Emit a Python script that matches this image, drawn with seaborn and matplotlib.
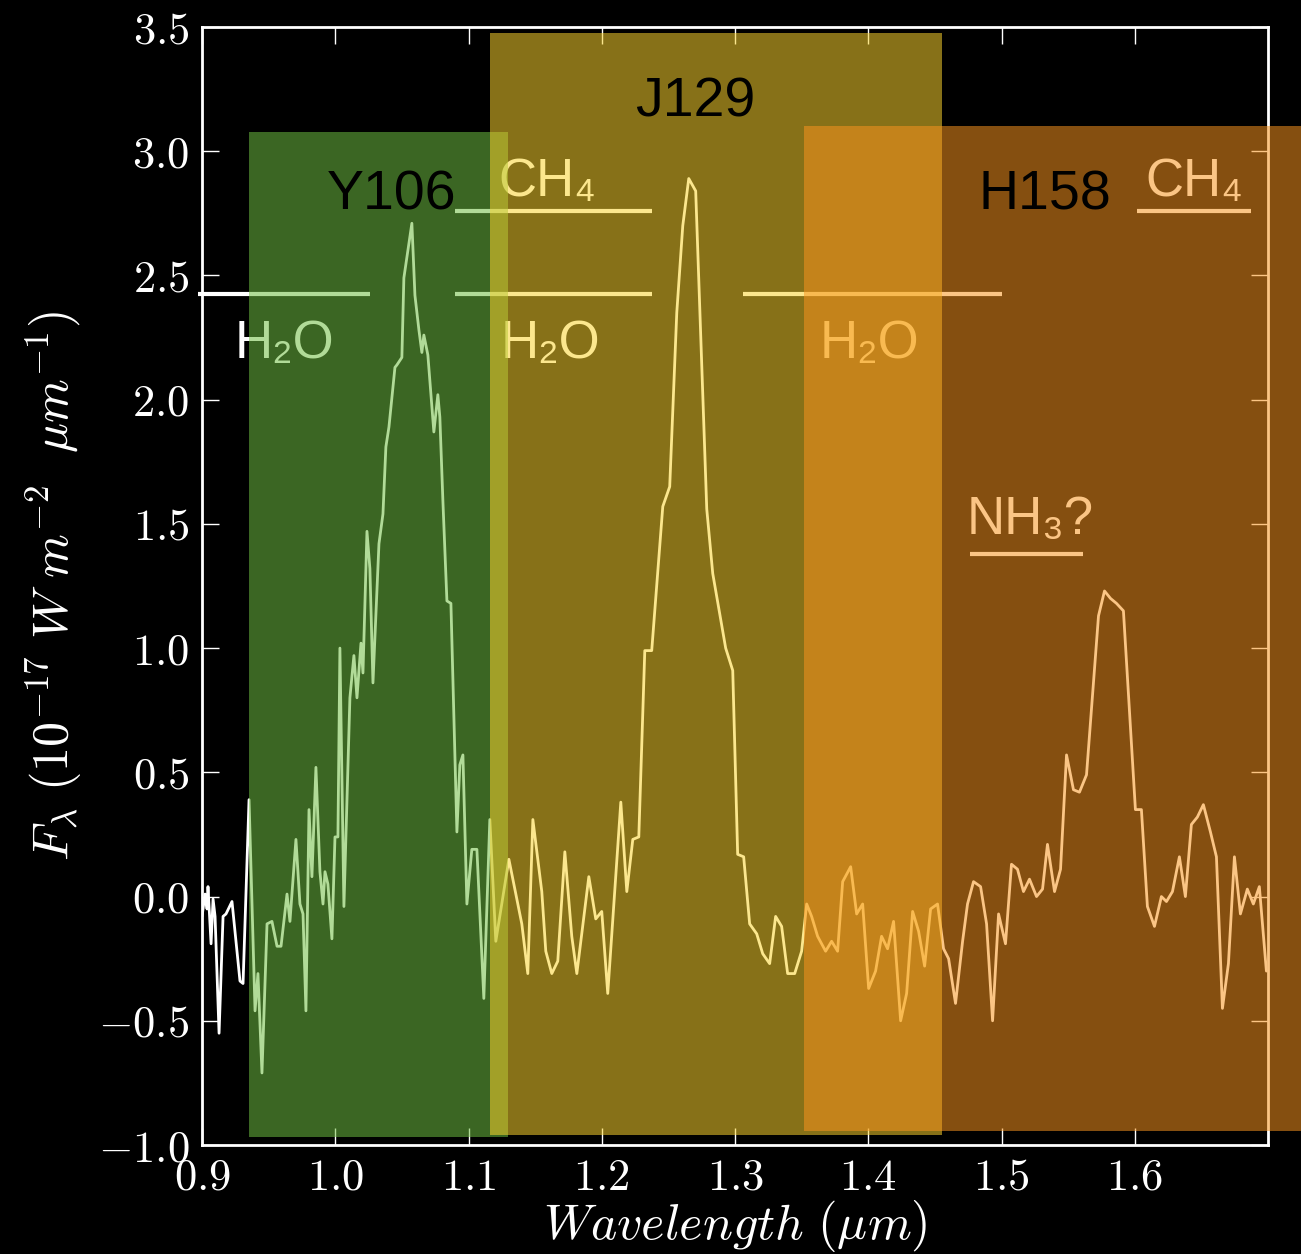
import matplotlib
matplotlib.use("Agg")
import matplotlib.pyplot as plt
import seaborn as sns
import pandas as pd
from matplotlib.patches import Rectangle
from matplotlib.ticker import FuncFormatter

# ---------------- data ----------------
wavelength = [0.9000, 0.9023, 0.9038, 0.9045, 0.9068, 0.9083, 0.9098, 0.9128, 0.9158, 0.9180,
              0.9225, 0.9285, 0.9308, 0.9353, 0.9398, 0.9420, 0.9450, 0.9488, 0.9525, 0.9563,
              0.9593, 0.9638, 0.9660, 0.9705, 0.9735, 0.9758, 0.9780, 0.9803, 0.9825, 0.9855,
              0.9885, 0.9908, 0.9923, 0.9945, 0.9975, 0.9998, 1.0020, 1.0035, 1.0065, 1.0110,
              1.0140, 1.0163, 1.0193, 1.0208, 1.0238, 1.0260, 1.0283, 1.0328, 1.0358, 1.0380,
              1.0403, 1.0448, 1.0463, 1.0500, 1.0515, 1.0545, 1.0575, 1.0598, 1.0628, 1.0650,
              1.0665, 1.0695, 1.0725, 1.0740, 1.0770, 1.0785, 1.0808, 1.0838, 1.0868, 1.0913,
              1.0935, 1.0958, 1.0988, 1.1025, 1.1063, 1.1115, 1.1160, 1.1205, 1.1303, 1.1400,
              1.1445, 1.1483, 1.1550, 1.1580, 1.1625, 1.1670, 1.1723, 1.1775, 1.1813, 1.1903,
              1.1955, 1.2000, 1.2045, 1.2143, 1.2188, 1.2233, 1.2278, 1.2323, 1.2375, 1.2458,
              1.2510, 1.2563, 1.2608, 1.2653, 1.2705, 1.2788, 1.2833, 1.2930, 1.2983, 1.3020,
              1.3065, 1.3110, 1.3163, 1.3208, 1.3260, 1.3305, 1.3350, 1.3395, 1.3448, 1.3500,
              1.3538, 1.3575, 1.3620, 1.3680, 1.3725, 1.3770, 1.3808, 1.3868, 1.3913, 1.3958,
              1.4003, 1.4055, 1.4100, 1.4145, 1.4190, 1.4243, 1.4288, 1.4333, 1.4378, 1.4423,
              1.4468, 1.4520, 1.4565, 1.4603, 1.4655, 1.4708, 1.4745, 1.4790, 1.4843, 1.4888,
              1.4933, 1.4978, 1.5030, 1.5075, 1.5120, 1.5165, 1.5210, 1.5263, 1.5308, 1.5345,
              1.5398, 1.5443, 1.5488, 1.5540, 1.5585, 1.5638, 1.5728, 1.5773, 1.5818, 1.5863,
              1.5915, 1.6005, 1.6050, 1.6095, 1.6148, 1.6200, 1.6238, 1.6283, 1.6335, 1.6380,
              1.6425, 1.6470, 1.6515, 1.6568, 1.6613, 1.6658, 1.6703, 1.6748, 1.6793, 1.6845,
              1.6890, 1.6935, 1.6988]
flux = [-0.08, 0.01, -0.05, 0.04, -0.19, -0.01, -0.08, -0.55, -0.08, -0.07,
        -0.02, -0.34, -0.35, 0.39, -0.46, -0.31, -0.71, -0.11, -0.10, -0.20,
        -0.20, 0.01, -0.10, 0.23, -0.03, -0.07, -0.46, 0.35, 0.08, 0.52,
        0.10, -0.03, 0.10, 0.05, -0.17, 0.24, 0.24, 1.00, -0.04, 0.80,
        0.97, 0.80, 1.02, 0.90, 1.47, 1.32, 0.86, 1.42, 1.54, 1.81,
        1.89, 2.13, 2.14, 2.17, 2.49, 2.60, 2.71, 2.42, 2.28, 2.19,
        2.26, 2.18, 1.97, 1.87, 2.02, 1.93, 1.59, 1.19, 1.18, 0.26,
        0.53, 0.57, -0.03, 0.19, 0.19, -0.41, 0.31, -0.18, 0.15, -0.11,
        -0.31, 0.31, 0.02, -0.22, -0.31, -0.26, 0.18, -0.16, -0.31, 0.08,
        -0.09, -0.06, -0.39, 0.38, 0.02, 0.23, 0.24, 0.99, 0.99, 1.57,
        1.65, 2.35, 2.70, 2.89, 2.84, 1.56, 1.30, 1.00, 0.91, 0.17,
        0.16, -0.11, -0.15, -0.23, -0.27, -0.08, -0.12, -0.31, -0.31, -0.22,
        -0.03, -0.08, -0.16, -0.22, -0.18, -0.22, 0.06, 0.12, -0.07, -0.03,
        -0.37, -0.30, -0.16, -0.21, -0.10, -0.50, -0.39, -0.06, -0.14, -0.28,
        -0.05, -0.03, -0.21, -0.25, -0.43, -0.18, -0.03, 0.06, 0.04, -0.11,
        -0.50, -0.07, -0.19, 0.13, 0.11, 0.02, 0.07, 0.00, 0.03, 0.21,
        0.02, 0.11, 0.57, 0.43, 0.42, 0.49, 1.13, 1.23, 1.20, 1.18,
        1.15, 0.35, 0.35, -0.04, -0.12, 0.00, -0.02, 0.02, 0.16, 0.00,
        0.29, 0.32, 0.37, 0.26, 0.16, -0.45, -0.27, 0.16, -0.07, 0.03,
        -0.03, 0.04, -0.30]

band_names = ["Y106", "J129", "H158"]
band_lo = [0.9353, 1.1160, 1.3520]
band_hi = [1.1295, 1.4557, 1.8000]
band_top = [3.077, 3.475, 3.100]
band_bottom = [-0.969, -0.961, -0.945]
band_colors = ["#6FBD41", "#FAD32E", "#F8941E"]
band_label_x = [1.0425, 1.2698, 1.5323]
band_label_y = [2.767, 3.14, 2.767]

h2o_lo = [0.897, 1.090, 1.306]
h2o_hi = [1.026, 1.2375, 1.500]
h2o_y = 2.4256
h2o_text_x = [0.9615, 1.1618, 1.4006]
h2o_text_y = 2.168

ch4_lo = [1.090, 1.602]
ch4_hi = [1.2375, 1.6875]
ch4_y = 2.76
ch4_text_x = [1.1588, 1.6444]
ch4_text_y = 2.82

nh3_lo = [1.476]
nh3_hi = [1.561]
nh3_y = 1.38
nh3_text_x = [1.5218]
nh3_text_y = 1.46

xticks = [0.9, 1.0, 1.1, 1.2, 1.3, 1.4, 1.5, 1.6]
yticks = [-1.0, -0.5, 0.0, 0.5, 1.0, 1.5, 2.0, 2.5, 3.0, 3.5]

# ---------------- style ----------------
sns.set_theme(style="ticks")
plt.rcParams.update({
    "mathtext.fontset": "cm",
    "figure.facecolor": "black",
    "axes.facecolor": "black",
    "savefig.facecolor": "black",
    "axes.edgecolor": "white",
    "xtick.color": "white",
    "ytick.color": "white",
    "axes.labelcolor": "white",
    "text.color": "white",
})
plt.rcParams["font.family"] = ["Liberation Sans", "DejaVu Sans"]

fig = plt.figure(figsize=(13.01, 12.54), dpi=100)
ax = fig.add_axes([202 / 1301, 1 - 1145 / 1254, (1268 - 202) / 1301, (1145 - 27) / 1254])

df = pd.DataFrame({"wl": wavelength, "flux": flux})
sns.lineplot(data=df, x="wl", y="flux", sort=False, estimator=None, ax=ax,
             color="white", linewidth=2.0, zorder=1)

ax.set_xlim(0.9, 1.7)
ax.set_ylim(-1.0, 3.5)
ax.set_xticks(xticks)
ax.set_yticks(yticks)
tick_fmt = FuncFormatter(lambda v, p: r"$\mathrm{%.1f}$" % v)
ax.xaxis.set_major_formatter(tick_fmt)
ax.yaxis.set_major_formatter(tick_fmt)
ax.tick_params(direction="in", length=12, width=1, labelsize=32, pad=9,
               top=True, right=True, colors="white")
for sp in ax.spines.values():
    sp.set_color("white")
    sp.set_linewidth(2)
    sp.set_zorder(1.5)

ax.set_xlabel(r"$Wavelength\ (\mu m)$", fontsize=36, labelpad=0)
ax.set_ylabel(r"$F_\lambda\ (10^{-17}\ W\ m^{-2}\ \ \mu m^{-1})$", fontsize=36, labelpad=10)

# feature markers (under the bands)
lw_feat = 3.0
for lo, hi in zip(h2o_lo, h2o_hi):
    ax.plot([lo, hi], [h2o_y, h2o_y], color="white", lw=lw_feat, solid_capstyle="butt",
            clip_on=False, zorder=1)
for x in h2o_text_x:
    ax.text(x, h2o_text_y, "H\u2082O", ha="center", va="baseline",
            fontsize=38, color="white", zorder=1)
for lo, hi in zip(ch4_lo, ch4_hi):
    ax.plot([lo, hi], [ch4_y, ch4_y], color="white", lw=lw_feat, solid_capstyle="butt",
            clip_on=False, zorder=1)
for x in ch4_text_x:
    ax.text(x, ch4_text_y, "CH\u2084", ha="center", va="baseline",
            fontsize=38, color="white", zorder=1)
for lo, hi in zip(nh3_lo, nh3_hi):
    ax.plot([lo, hi], [nh3_y, nh3_y], color="white", lw=lw_feat, solid_capstyle="butt",
            clip_on=False, zorder=1)
for x in nh3_text_x:
    ax.text(x, nh3_text_y, "NH\u2083?", ha="center", va="baseline",
            fontsize=38, color="white", zorder=1)

# filter bands
for lo, hi, top, bot, c in zip(band_lo, band_hi, band_top, band_bottom, band_colors):
    ax.add_patch(Rectangle((lo, bot), hi - lo, top - bot, facecolor=c, edgecolor="none",
                           alpha=0.54, clip_on=False, zorder=3))

for name, x, y in zip(band_names, band_label_x, band_label_y):
    ax.text(x, y, name, ha="center", va="baseline", fontsize=40, color="black", zorder=5)

fig.savefig("out.png", dpi=100, facecolor="black")
